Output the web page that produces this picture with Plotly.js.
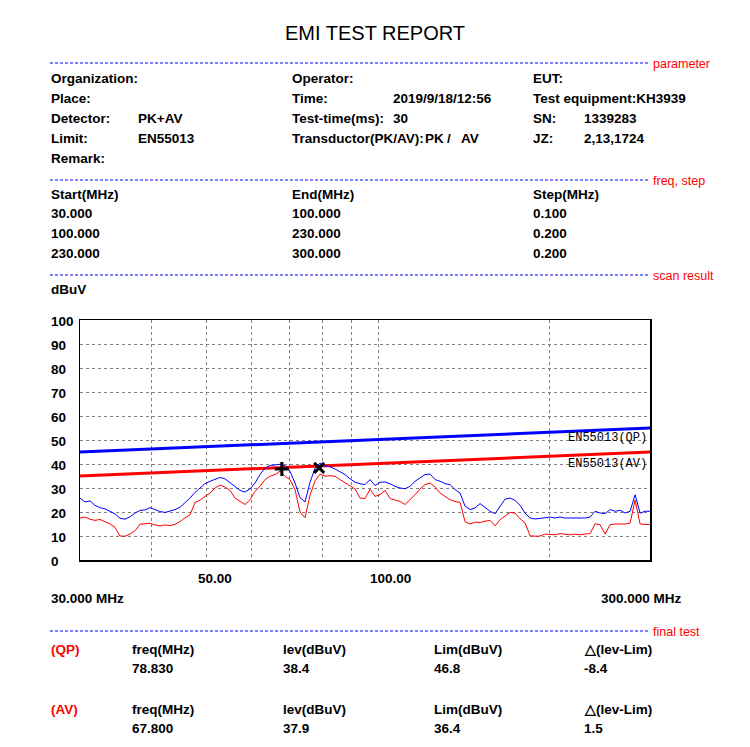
<!DOCTYPE html>
<html><head><meta charset="utf-8">
<script src="https://cdn.plot.ly/plotly-3.0.1.min.js"></script>
<style>html,body{margin:0;padding:0;background:#fff}#chart{width:750px;height:747px}</style>
</head><body><div id="chart"></div>
<script>
// ---------- data ----------
const freqMHz = [
30.00, 30.61, 31.24, 31.87, 32.52, 33.19, 33.87, 34.56, 35.26, 35.98,
36.72, 37.47, 38.23, 39.01, 39.81, 40.62, 41.45, 42.29, 43.16, 44.04,
44.94, 45.85, 46.79, 47.74, 48.72, 49.71, 50.73, 51.76, 52.82, 53.90,
55.00, 56.12, 57.26, 58.43, 59.62, 60.84, 62.08, 63.35, 64.64, 65.96,
67.31, 68.68, 70.08, 71.51, 72.97, 74.46, 75.98, 77.53, 79.11, 80.73,
82.38, 84.06, 85.77, 87.52, 89.31, 91.13, 92.99, 94.89, 96.82, 98.80,
100.82, 102.87, 104.97, 107.12, 109.30, 111.53, 113.81, 116.13, 118.50, 120.92,
123.39, 125.91, 128.47, 131.10, 133.77, 136.50, 139.29, 142.13, 145.03, 147.99,
151.01, 154.09, 157.24, 160.45, 163.72, 167.06, 170.47, 173.95, 177.50, 181.12,
184.82, 188.59, 192.44, 196.37, 200.37, 204.46, 208.64, 212.89, 217.24, 221.67,
226.19, 230.81, 235.52, 240.33, 245.23, 250.24, 255.34, 260.56, 265.87, 271.30,
276.83, 282.48, 288.25, 294.13, 300.00];
const peakLevel = [
25.8, 24.2, 24.6, 22.8, 21.8, 21.3, 20.3, 19.2, 17.4, 17.0,
18.0, 19.6, 20.6, 20.9, 21.8, 21.0, 20.2, 19.8, 20.4, 21.0,
22.0, 23.8, 25.8, 28.2, 30.0, 31.8, 32.8, 33.5, 34.4, 33.8,
32.1, 30.4, 29.0, 28.3, 29.6, 32.1, 35.6, 38.3, 39.4, 39.6,
39.9, 39.3, 36.9, 32.1, 26.0, 24.2, 32.4, 38.3, 40.4, 39.3,
38.8, 37.9, 36.9, 35.6, 33.8, 32.4, 31.8, 31.4, 33.5, 31.0,
32.4, 32.5, 31.8, 30.7, 30.0, 29.7, 30.7, 32.8, 34.2, 35.6,
35.8, 33.5, 32.8, 31.8, 31.4, 29.3, 27.9, 22.4, 21.0, 21.7,
23.5, 21.7, 20.3, 19.3, 22.5, 25.4, 25.8, 24.8, 22.8, 19.5,
17.5, 17.1, 17.3, 17.5, 17.9, 17.5, 17.9, 17.5, 17.5, 17.8,
17.5, 17.5, 17.9, 20.3, 19.6, 19.3, 21.0, 20.3, 20.7, 19.6,
20.3, 27.2, 19.5, 20.3, 20.3];
const avgLevel = [
17.5, 17.9, 17.0, 16.5, 16.9, 16.0, 15.0, 13.6, 10.0, 9.9,
10.8, 12.2, 14.9, 15.1, 15.3, 14.6, 14.2, 14.6, 14.3, 14.9,
16.0, 17.6, 18.8, 24.0, 24.9, 26.5, 27.9, 30.0, 31.2, 30.4,
29.0, 25.8, 24.4, 23.1, 25.1, 28.6, 30.7, 33.5, 34.9, 35.6,
37.0, 34.9, 33.5, 29.3, 20.0, 17.6, 27.0, 33.0, 35.8, 34.9,
35.1, 34.9, 33.5, 32.1, 30.7, 29.6, 25.8, 25.6, 29.5, 26.5,
27.2, 29.0, 25.6, 25.1, 24.4, 23.1, 25.1, 27.2, 29.6, 31.4,
32.1, 30.4, 27.9, 26.5, 25.1, 24.4, 24.0, 15.9, 15.0, 15.8,
15.6, 16.2, 16.5, 14.2, 16.8, 18.3, 19.9, 19.5, 17.2, 15.4,
10.1, 9.9, 10.0, 10.8, 10.8, 10.5, 11.0, 10.8, 10.5, 10.8,
10.5, 10.8, 11.0, 15.1, 14.7, 10.8, 14.7, 15.0, 15.0, 15.0,
15.4, 25.0, 15.0, 14.8, 14.7];
const limitFreq = [30, 300];
const qpLimit = [45, 55];
const avLimit = [35, 45];
const finalDetectors = ['QP', 'AV'];
const finalFreq = [78.83, 67.8];
const finalLev = [38.4, 37.9];
const finalLim = [46.8, 36.4];
const finalSymbols = ['x-thin', 'cross-thin'];
const stepStart = [30, 100, 230];
const stepEnd = [100, 230, 300];
const stepSize = [0.1, 0.2, 0.2];
const yTickVals = [0, 10, 20, 30, 40, 50, 60, 70, 80, 90, 100];
const yGridVals = [10, 20, 30, 40, 50, 60, 70, 80, 90];
const xGridVals = [40, 50, 60, 70, 80, 90, 100, 200];
const xLabelVals = [50, 100];
const xLabelText = ['50.00', '100.00'];

// ---------- layout helpers ----------
const L = 80, R = 650, T = 320, B = 560;
const px = x => (x - L) / (R - L);
const py = y => (B - y) / (B - T);
const FONT = 'Liberation Sans, Arial, sans-serif';
const ann = [];
function txt(x, y, s, opts) {
  opts = opts || {};
  ann.push({
    xref: 'paper', yref: 'paper', x: px(x), y: py(y), text: s, borderpad: 0,
    xanchor: opts.anchor || 'left', yanchor: 'middle', showarrow: false,
    font: {family: opts.family || FONT, size: opts.size || 13.5, color: opts.color || '#000', weight: opts.weight || 'bold'}
  });
}
const shapes = [];
function sep(y, label) {
  shapes.push({type: 'line', xref: 'paper', yref: 'paper', x0: px(50), x1: px(648), y0: py(y), y1: py(y),
    line: {color: '#0000ff', width: 1, dash: '3px,2px'}});
  txt(652, y + 0.5, label, {color: '#ff0000', size: 12.5, weight: 'normal'});
}

txt(375, 33, 'EMI TEST REPORT', {anchor: 'center', size: 20, weight: 'normal'});
sep(63, 'parameter');
txt(50, 78, 'Organization:'); txt(291, 78, 'Operator:'); txt(532, 78, 'EUT:');
txt(50, 98, 'Place:'); txt(291, 98, 'Time:'); txt(392, 98, '2019/9/18/12:56'); txt(532, 98, 'Test equipment:KH3939');
txt(50, 118, 'Detector:'); txt(137, 118, 'PK+AV'); txt(291, 118, 'Test-time(ms):'); txt(392, 118, '30');
txt(532, 118, 'SN:'); txt(583, 118, '1339283');
txt(50, 138, 'Limit:'); txt(137, 138, 'EN55013'); txt(291, 138, 'Transductor(PK/AV):');
txt(424, 138, 'PK'); txt(446, 138, '/'); txt(460, 138, 'AV');
txt(532, 138, 'JZ:'); txt(583, 138, '2,13,1724');
txt(50, 158, 'Remark:');
sep(180, 'freq, step');
txt(50, 194, 'Start(MHz)'); txt(291, 194, 'End(MHz)'); txt(532, 194, 'Step(MHz)');
stepStart.forEach((s, i) => {
  const y = 213 + 20 * i;
  txt(50, y, s.toFixed(3)); txt(291, y, stepEnd[i].toFixed(3)); txt(532, y, stepSize[i].toFixed(3));
});
sep(275, 'scan result');
txt(50, 289, 'dBuV');

// y tick labels (left aligned as in the report)
yTickVals.forEach(v => ann.push({xref: 'paper', yref: 'y', x: px(50), y: v, yshift: -1, text: String(v), borderpad: 0,
  xanchor: 'left', yanchor: 'middle', showarrow: false, font: {family: FONT, size: 13.5, weight: 'bold', color: '#000'}}));
// x tick labels
xLabelVals.forEach((v, i) => ann.push({xref: 'x', yref: 'paper', x: Math.log10(v), xshift: -9, y: py(578), text: xLabelText[i], borderpad: 0,
  xanchor: 'left', yanchor: 'middle', showarrow: false, font: {family: FONT, size: 13.5, weight: 'bold', color: '#000'}}));
txt(50, 598, limitFreq[0].toFixed(3) + ' MHz');
txt(683, 598, limitFreq[1].toFixed(3) + ' MHz', {anchor: 'right'});

// limit labels
ann.push({xref: 'paper', yref: 'paper', x: px(648), y: py(438), text: 'EN55013(QP)', xanchor: 'right', yanchor: 'middle', borderpad: 0,
  showarrow: false, font: {family: 'Liberation Mono, Courier New, monospace', size: 12, color: '#000'}});
ann.push({xref: 'paper', yref: 'paper', x: px(648), y: py(464), text: 'EN55013(AV)', xanchor: 'right', yanchor: 'middle', borderpad: 0,
  showarrow: false, font: {family: 'Liberation Mono, Courier New, monospace', size: 12, color: '#000'}});

sep(631, 'final test');
finalDetectors.forEach((d, i) => {
  const y0 = 649 + 60 * i, y1 = 668 + 60 * i;
  txt(50, y0, '(' + d + ')', {color: '#ff0000'});
  txt(131, y0, 'freq(MHz)'); txt(282, y0, 'lev(dBuV)'); txt(433, y0, 'Lim(dBuV)'); txt(583, y0, '\u25B3(lev-Lim)');
  txt(131, y1, finalFreq[i].toFixed(3)); txt(282, y1, finalLev[i].toFixed(1));
  txt(433, y1, finalLim[i].toFixed(1)); txt(583, y1, (finalLev[i] - finalLim[i]).toFixed(1));
});

const traces = [
  {x: limitFreq, y: qpLimit, mode: 'lines', line: {color: '#0000ff', width: 3}, hoverinfo: 'skip'},
  {x: limitFreq, y: avLimit, mode: 'lines', line: {color: '#ff0000', width: 3}, hoverinfo: 'skip'},
  {x: freqMHz, y: peakLevel, mode: 'lines', line: {color: '#0000ff', width: 1}},
  {x: freqMHz, y: avgLevel, mode: 'lines', line: {color: '#ff0000', width: 1}},
  {x: finalFreq, y: finalLev, mode: 'markers',
   marker: {symbol: finalSymbols, size: 10, color: '#000', line: {color: '#000', width: 3}}}
];

const layout = {
  width: 750, height: 747, showlegend: false,
  paper_bgcolor: '#fff', plot_bgcolor: '#fff',
  margin: {l: L, r: 750 - R, t: T, b: 747 - B, pad: 0},
  xaxis: {type: 'log', range: [Math.log10(30), Math.log10(300)], tickvals: xGridVals, showticklabels: false, ticks: '',
    showgrid: true, gridcolor: '#808080', gridwidth: 1, griddash: '3px,3px', zeroline: false,
    showline: true, mirror: true, linecolor: '#000', linewidth: 1.5},
  yaxis: {range: [0, 100], tickvals: yGridVals, showticklabels: false, ticks: '',
    showgrid: true, gridcolor: '#808080', gridwidth: 1, griddash: '3px,3px', zeroline: false,
    showline: true, mirror: true, linecolor: '#000', linewidth: 1.5},
  annotations: ann, shapes: shapes
};
Plotly.newPlot('chart', traces, layout, {displayModeBar: false, staticPlot: true});
</script></body></html>
